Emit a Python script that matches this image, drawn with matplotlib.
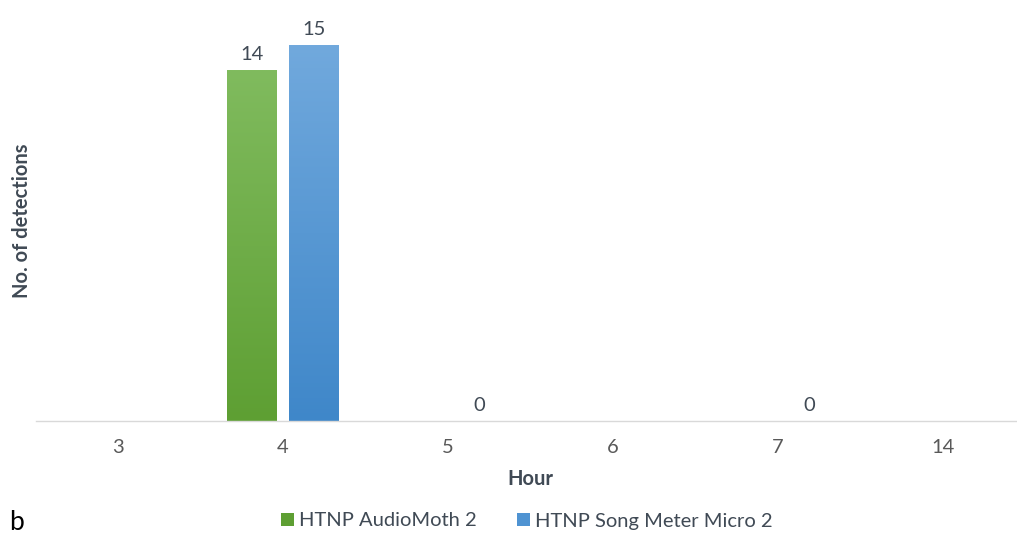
import numpy as np
import matplotlib
matplotlib.use("Agg")
import matplotlib.pyplot as plt
from matplotlib.patches import Patch
from matplotlib.colors import LinearSegmentedColormap

# Detections per hour for the two recorders (NaN = no bar / no label)
hours = ["3", "4", "5", "6", "7", "14"]
audiomoth = [np.nan, 14, np.nan, np.nan, np.nan, np.nan]
songmeter = [np.nan, 15, 0, np.nan, 0, np.nan]
series_names = ["HTNP AudioMoth 2", "HTNP Song Meter Micro 2"]

plt.rcParams["font.family"] = ["Lato", "DejaVu Sans"]

W, H = 1017, 535
fig = plt.figure(figsize=(W / 100, H / 100), dpi=100)
fig.patch.set_facecolor("white")

ax = fig.add_axes([35.5 / W, 114 / H, 990 / W, 401 / H])
ax.set_facecolor("none")

x = np.arange(len(hours))
width = 0.303
offset = 0.19

green_top, green_bot = "#80bb5e", "#5e9f33"
blue_top, blue_bot = "#71a9dd", "#3f87c9"

bars_g = ax.bar(x - offset, np.nan_to_num(audiomoth), width, color="none", edgecolor="none")
bars_b = ax.bar(x + offset, np.nan_to_num(songmeter), width, color="none", edgecolor="none")


def gradient_fill(bars, top, bottom):
    cmap = LinearSegmentedColormap.from_list("g", [bottom, top])
    grad = np.linspace(0, 1, 256).reshape(-1, 1)
    for b in bars:
        h = b.get_height()
        if h <= 0:
            continue
        x0 = b.get_x()
        im = ax.imshow(grad, cmap=cmap, aspect="auto", origin="lower",
                       extent=[x0, x0 + b.get_width(), 0, h], zorder=2)
        im.set_clip_path(b)


gradient_fill(bars_g, green_top, green_bot)
gradient_fill(bars_b, blue_top, blue_bot)
ax.set_xlim(-0.5, len(hours) - 0.5)
ax.set_ylim(0, 16)

fs = 14.5
label_color = "#404a55"
for vals, xs in ((audiomoth, x - offset), (songmeter, x + offset)):
    for xi, v in zip(xs, vals):
        if np.isnan(v):
            continue
        ax.annotate(f"{int(v)}", (xi, v), xytext=(0, 5), textcoords="offset points",
                    ha="center", va="bottom", fontsize=fs, color=label_color)

for s in ["top", "right", "left"]:
    ax.spines[s].set_visible(False)
ax.spines["bottom"].set_color("#d9d9d9")
ax.spines["bottom"].set_linewidth(1.0)
ax.set_yticks([])
ax.set_xticks(x)
ax.set_xticklabels(hours, fontsize=fs, color="#595959")
ax.tick_params(axis="x", length=0, pad=13)

fig.text(530 / W, 1 - 479 / H, "Hour", ha="center", va="center",
         fontsize=fs, fontweight="bold", color="#404a55")
fig.text(22 / W, 1 - 221 / H, "No. of detections", ha="center", va="center",
         rotation=90, fontsize=fs, fontweight="bold", color="#404a55")

fig.text(9 / W, 1 - 522 / H, "b", ha="left", va="center", fontsize=19, color="black")

handles = [Patch(facecolor=green_bot, edgecolor="none"),
           Patch(facecolor="#4f93d2", edgecolor="none")]
fig.legend(handles, series_names, loc="center", bbox_to_anchor=(527 / W, 14 / H),
           ncol=2, frameon=False, fontsize=fs, handlelength=0.65, handleheight=0.65,
           handletextpad=0.25, columnspacing=2.0, labelcolor="#404a55")

fig.savefig("out.png", dpi=100)
